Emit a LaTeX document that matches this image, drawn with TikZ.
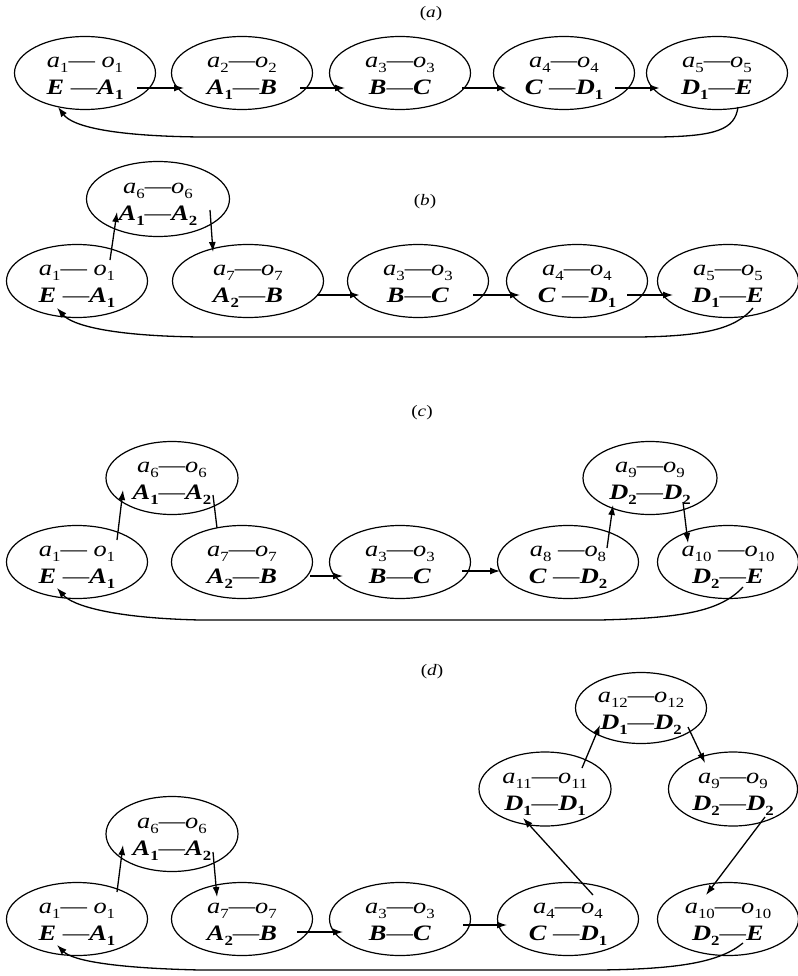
\documentclass[tikz,border=0pt]{standalone}
\usepackage{fontspec}
\setmainfont[FakeStretch=1.2]{Liberation Serif}
\usetikzlibrary{shapes.geometric,arrows.meta}
\newcommand\sbx[1]{\raisebox{-0.22em}{\fontsize{14}{14}\selectfont #1}}
\newcommand\va[1]{\textit{a}\sbx{#1}}
\newcommand\vo[1]{\textit{o}\sbx{#1}}
\newcommand\vb[1]{\textbf{\textit{#1}}}
\newcommand\vs[1]{\textbf{\sbx{#1}}}
\newcommand\md{\textemdash}
\begin{document}
\begin{tikzpicture}[x=1pt,y=-1pt,
  st/.style={ellipse, draw, line width=1.2pt, minimum width=141pt, minimum height=73pt,
    inner sep=0pt, align=center, font=\fontsize{22}{27}\selectfont,
    text height=43pt, text depth=0pt},
  arr/.style={line width=1.3pt,-{Latex[length=10pt,width=7pt]}},
  tarr/.style={arr,line width=2pt},
  lnk/.style={line width=1.3pt},
  ptitle/.style={font=\fontsize{16}{16}\selectfont}]
\useasboundingbox (0,0) rectangle (797,976);

% ---------------- (a)
\node[ptitle] (la) at (431,14) {(\textit{a})};
\node[st] (a1) at (85,73) {\va{1}\md\ \vo{1}\\\vb{E}\ \md\vb{A}\vs{1}};
\node[st] (a2) at (242,73) {\va{2}\md\vo{2}\\\vb{A}\vs{1}\md\vb{B}};
\node[st] (a3) at (400,73) {\va{3}\md\vo{3}\\\vb{B}\md\vb{C}};
\node[st] (a4) at (564,73) {\va{4}\md\vo{4}\\\vb{C}\ \md\vb{D}\vs{1}};
\node[st] (a5) at (717,73) {\va{5}\md\vo{5}\\\vb{D}\vs{1}\md\vb{E}};
\draw[arr] ([shift={(52,15)}]a1.center) -- ([shift={(-58,15)}]a2.center);
\draw[arr] ([shift={(58,15)}]a2.center) -- ([shift={(-55,15)}]a3.center);
\draw[tarr] ([shift={(62,15)}]a3.center) -- ([shift={(-57,15)}]a4.center);
\draw[tarr] ([shift={(51,15)}]a4.center) -- ([shift={(-57,15)}]a5.center);
\draw[arr] ([shift={(21,34)}]a5.center) .. controls (735,130) and (715,136) .. (660,137)
  -- (200,137) .. controls (110,136) and (72,126) .. ([shift={(-27,34)}]a1.center);

% ---------------- (b)
\node[ptitle] (lb) at (425,202) {(\textit{b})};
\node[st, minimum width=143pt, minimum height=75pt] (b6) at (158,199) {\va{6}\md\vo{6}\\\vb{A}\vs{1}\md\vb{A}\vs{2}};
\node[st] (b1) at (77,281) {\va{1}\md\ \vo{1}\\\vb{E}\ \md\vb{A}\vs{1}};
\node[st, minimum width=151pt] (b7) at (248,281) {\va{7}\md\vo{7}\\\vb{A}\vs{2}\md\vb{B}};
\node[st] (b3) at (418,281) {\va{3}\md\vo{3}\\\vb{B}\md\vb{C}};
\node[st] (b4) at (577,281) {\va{4}\md\vo{4}\\\vb{C}\ \md\vb{D}\vs{1}};
\node[st] (b5) at (728,281) {\va{5}\md\vo{5}\\\vb{D}\vs{1}\md\vb{E}};
\draw[arr] ([shift={(33,-21)}]b1.center) -- ([shift={(-41,13)}]b6.center);
\draw[arr] ([shift={(52,11)}]b6.center) -- ([shift={(-35,-29)}]b7.center);
\draw[tarr] ([shift={(69,14)}]b7.center) -- ([shift={(-58,14)}]b3.center);
\draw[arr] ([shift={(55,14)}]b3.center) -- ([shift={(-57,14)}]b4.center);
\draw[arr] ([shift={(50,14)}]b4.center) -- ([shift={(-55,14)}]b5.center);
\draw[arr] ([shift={(25,27)}]b5.center) .. controls (735,330) and (700,336) .. (640,337)
  -- (200,337) .. controls (110,336) and (72,325) .. ([shift={(-20,27)}]b1.center);

% ---------------- (c)
\node[ptitle] (lc) at (422,413) {(\textit{c})};
\node[st, minimum width=132pt] (c6) at (172,478) {\va{6}\md\vo{6}\\\vb{A}\vs{1}\md\vb{A}\vs{2}};
\node[st, minimum width=134pt] (c9) at (650,478) {\va{9}\md\vo{9}\\\vb{D}\vs{2}\md\vb{D}\vs{2}};
\node[st] (c1) at (77,562) {\va{1}\md\ \vo{1}\\\vb{E}\ \md\vb{A}\vs{1}};
\node[st] (c7) at (242,562) {\va{7}\md\vo{7}\\\vb{A}\vs{2}\md\vb{B}};
\node[st] (c3) at (400,562) {\va{3}\md\vo{3}\\\vb{B}\md\vb{C}};
\node[st] (c8) at (568,562) {\va{8}\ \md\vo{8}\\\vb{C}\ \md\vb{D}\vs{2}};
\node[st] (c10) at (728,562) {\va{10}\ \md\vo{10}\\\vb{D}\vs{2}\md\vb{E}};
\draw[arr] ([shift={(40,-22)}]c1.center) -- ([shift={(-49,12)}]c6.center);
\draw[lnk] ([shift={(-25,-34)}]c7.center) -- ([shift={(41,17)}]c6.center);
\draw[arr] ([shift={(68,14)}]c7.center) -- ([shift={(-57,14)}]c3.center);
\draw[arr] ([shift={(62,9)}]c3.center) -- ([shift={(-68,9)}]c8.center);
\draw[arr] ([shift={(39,-14)}]c8.center) -- ([shift={(-37,27)}]c9.center);
\draw[arr] ([shift={(33,24)}]c9.center) -- ([shift={(-40,-19)}]c10.center);
\draw[arr] ([shift={(15,25)}]c10.center) .. controls (720,612) and (680,618) .. (600,620)
  -- (200,620) .. controls (110,618) and (72,605) .. ([shift={(-20,26)}]c1.center);

% ---------------- (d)
\node[ptitle] (ld) at (432,672) {(\textit{d})};
\node[st, minimum width=131pt, minimum height=71pt] (d12) at (641,708) {\va{12}\md\vo{12}\\\vb{D}\vs{1}\md\vb{D}\vs{2}};
\node[st, minimum width=132pt, minimum height=74pt] (d11) at (545,789) {\va{11}\md\vo{11}\\\vb{D}\vs{1}\md\vb{D}\vs{1}};
\node[st, minimum width=129pt, minimum height=74pt] (d9) at (733,789) {\va{9}\md\vo{9}\\\vb{D}\vs{2}\md\vb{D}\vs{2}};
\node[st, minimum width=132pt, minimum height=75pt] (d6) at (172,834) {\va{6}\md\vo{6}\\\vb{A}\vs{1}\md\vb{A}\vs{2}};
\node[st] (d1) at (77,919) {\va{1}\md\ \vo{1}\\\vb{E}\ \md\vb{A}\vs{1}};
\node[st] (d7) at (242,919) {\va{7}\md\vo{7}\\\vb{A}\vs{2}\md\vb{B}};
\node[st] (d3) at (400,919) {\va{3}\md\vo{3}\\\vb{B}\md\vb{C}};
\node[st] (d4) at (568,919) {\va{4}\md\vo{4}\\\vb{C}\ \md\vb{D}\vs{1}};
\node[st] (d10) at (728,919) {\va{10}\md\vo{10}\\\vb{D}\vs{2}\md\vb{E}};
\draw[arr] ([shift={(40,-27)}]d1.center) -- ([shift={(-49,11)}]d6.center);
\draw[arr] ([shift={(41,18)}]d6.center) -- ([shift={(-25,-22)}]d7.center);
\draw[arr] ([shift={(55,13)}]d7.center) -- ([shift={(-57,13)}]d3.center);
\draw[arr] ([shift={(63,6)}]d3.center) -- ([shift={(-61,6)}]d4.center);
\draw[arr] ([shift={(25,-24)}]d4.center) -- ([shift={(-22,29)}]d11.center);
\draw[arr] ([shift={(37,-21)}]d11.center) -- ([shift={(-41,17)}]d12.center);
\draw[arr] ([shift={(47,19)}]d12.center) -- ([shift={(-28,-26)}]d9.center);
\draw[arr] ([shift={(32,28)}]d9.center) -- ([shift={(-22,-24)}]d10.center);
\draw[arr] ([shift={(15,24)}]d10.center) .. controls (720,962) and (680,969) .. (600,970)
  -- (200,970) .. controls (110,968) and (72,960) .. ([shift={(-20,26)}]d1.center);
\end{tikzpicture}
\end{document}
